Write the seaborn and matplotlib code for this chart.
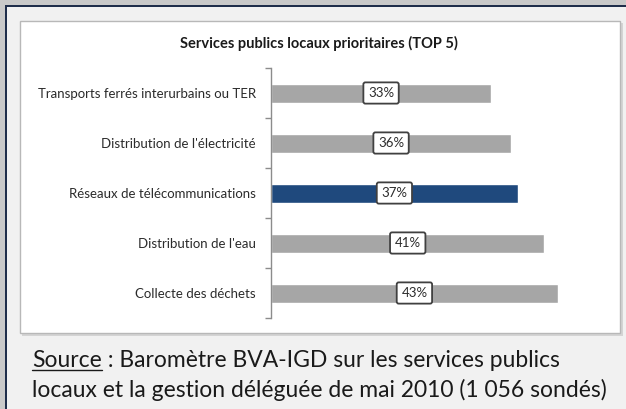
import matplotlib.pyplot as plt
import matplotlib.patches as mpatches
import seaborn as sns
import pandas as pd

categories = [
    "Transports ferrés interurbains ou TER",
    "Distribution de l'électricité",
    "Réseaux de télécommunications",
    "Distribution de l'eau",
    "Collecte des déchets",
]
values = [33, 36, 37, 41, 43]
highlight = "Réseaux de télécommunications"

df = pd.DataFrame({"Service": categories, "Pct": values})
df["Groupe"] = ["focus" if c == highlight else "autre" for c in categories]

sns.set_theme(style="white")
plt.rcParams["font.family"] = ["Lato", "DejaVu Sans"]

W, H = 626, 409
fig = plt.figure(figsize=(W / 100, H / 100), dpi=100)
fig.patch.set_facecolor("#f1f1f1")

def px_rect(x0, y0, x1, y1, **kw):
    # rectangle in pixel coords measured from the top-left corner
    r = mpatches.Rectangle((x0 / W, 1 - y1 / H), (x1 - x0) / W, (y1 - y0) / H,
                           transform=fig.transFigure, **kw)
    fig.patches.append(r)

# dotted frame at top and left, dark border line
px_rect(0, 0, W, 5, facecolor="#c9c9c9", edgecolor="none", hatch="....", zorder=0)
px_rect(0, 0, 5, H, facecolor="#c9c9c9", edgecolor="none", hatch="....", zorder=0)
px_rect(5, 5, 7, H, facecolor="#1f2d4a", edgecolor="none", zorder=1)
px_rect(5, 5, W, 7, facecolor="#1f2d4a", edgecolor="none", zorder=1)
# inner white chart panel with soft shadow
px_rect(22, 23, 623, 336, facecolor="#d4d4d4", edgecolor="none", zorder=1)
px_rect(20, 21, 620, 333, facecolor="white", edgecolor="#b8b8b8", linewidth=1, zorder=2)

ax = fig.add_axes([271 / W, 1 - 318 / H, 333.5 / W, 250 / H])
ax.set_facecolor("none")
ax.set_zorder(3)

sns.barplot(data=df, y="Service", x="Pct", hue="Groupe", order=categories,
            palette={"autre": "#a6a6a6", "focus": "#1f497d"}, dodge=False,
            width=0.38, legend=False, saturation=1, ax=ax)

ax.set_xlim(0, 50)
ax.set_ylim(4.5, -0.5)
ax.set_xlabel("")
ax.set_ylabel("")
ax.set_xticks([])
for s in ["top", "right", "bottom"]:
    ax.spines[s].set_visible(False)
ax.spines["left"].set_color("#8c8c8c")
ax.spines["left"].set_linewidth(1)
ax.set_yticks(range(len(categories)))
ax.set_yticks([i - 0.5 for i in range(len(categories) + 1)], minor=True)
ax.tick_params(axis="y", which="major", length=0, pad=11, labelsize=9.5, labelcolor="#2b2b2b")
ax.tick_params(axis="y", which="minor", length=4, width=1, color="#8c8c8c", direction="out", left=True)

for i, v in enumerate(values):
    ax.text(v / 2, i, f"{v}%", ha="center", va="center", fontsize=9.5, color="#2b2b2b",
            bbox=dict(boxstyle="round,pad=0.35,rounding_size=0.15", facecolor="white",
                      edgecolor="#404040", linewidth=1.3))

fig.text(319 / W, 1 - 43 / H, "Services publics locaux prioritaires (TOP 5)",
         ha="center", va="center", fontsize=10.5, fontweight="bold", color="#1a1a1a")

src_size = 16.5
t1 = fig.text(32 / W, 1 - 367 / H, "Source", ha="left", va="baseline",
              fontsize=src_size, color="#1a1a1a")
fig.canvas.draw()
bb = t1.get_window_extent()
fig.text((bb.x1) / W, 1 - 367 / H, " : Baromètre BVA-IGD sur les services publics",
         ha="left", va="baseline", fontsize=src_size, color="#1a1a1a")
fig.lines.append(plt.Line2D([bb.x0 / W, bb.x1 / W], [1 - 370 / H, 1 - 370 / H],
                            transform=fig.transFigure, color="#1a1a1a", linewidth=1))
fig.text(32 / W, 1 - 397 / H, "locaux et la gestion déléguée de mai 2010 (1 056 sondés)",
         ha="left", va="baseline", fontsize=src_size, color="#1a1a1a")

fig.savefig("out.png", dpi=100, facecolor=fig.get_facecolor())
